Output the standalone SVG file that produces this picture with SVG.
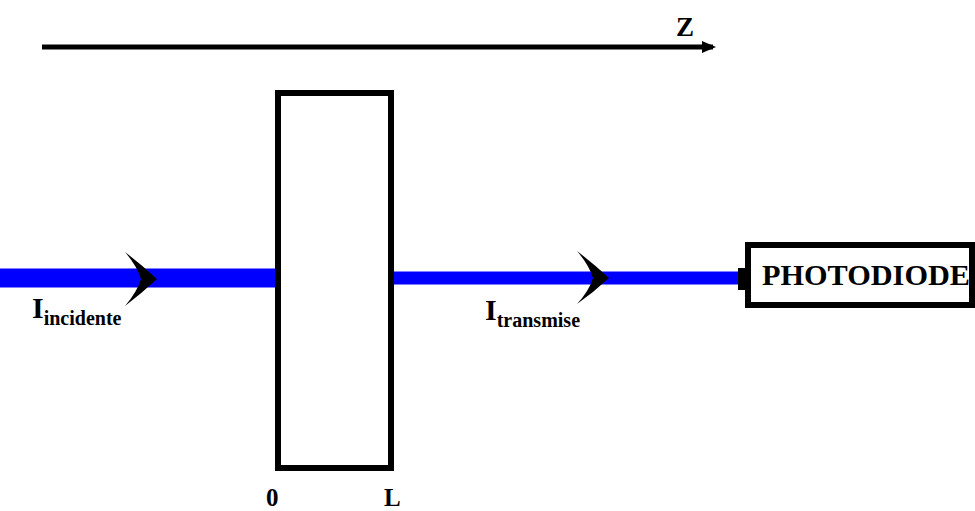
<svg xmlns="http://www.w3.org/2000/svg" width="975" height="511" viewBox="0 0 975 511">
<style>
.lbl{font-family:"Liberation Serif","Times New Roman",serif;font-weight:bold;fill:#000}
.box{fill:#fff;stroke:#000;stroke-width:6}
.beam{stroke:#0000ff;fill:none}
.chev{fill:#000}
</style>
<defs>
<marker id="ah" markerWidth="14" markerHeight="12" refX="11" refY="6" orient="auto" markerUnits="userSpaceOnUse">
<path d="M0,0 L14,6 L0,12 Z" fill="#000"/>
</marker>
</defs>
<rect width="975" height="511" fill="#fff"/>
<g id="connectors">
<line id="z-axis" x1="42" y1="47" x2="713" y2="47" stroke="#000" stroke-width="5" marker-end="url(#ah)"/>
<line id="beam-incident" class="beam" x1="0" y1="278" x2="276" y2="278" stroke-width="19"/>
<line id="beam-transmitted" class="beam" x1="392" y1="278" x2="742" y2="278" stroke-width="13"/>
<rect x="738" y="268" width="8" height="22" fill="#000"/>
<path class="chev" d="M125,252 Q142,265 157,279 Q142,293 125,306 Q137,292 141,279 Q137,266 125,252 Z"/>
<path class="chev" d="M577,251 Q594,264 609,278 Q594,292 577,304 Q589,291 593,278 Q589,265 577,251 Z"/>
</g>
<g id="slab">
<rect class="box" x="278" y="93" width="113" height="375"/>
</g>
<g id="photodiode">
<rect class="box" x="748" y="245" width="224" height="60"/>
<text class="lbl" x="762" y="285" font-size="30" textLength="208" lengthAdjust="spacingAndGlyphs">PHOTODIODE</text>
</g>
<g id="labels">
<text class="lbl" x="676" y="36" font-size="27">Z</text>
<text class="lbl" x="32" y="318" font-size="30">I<tspan font-size="20" dy="7">incidente</tspan></text>
<text class="lbl" x="485" y="320" font-size="30">I<tspan font-size="20" dy="7">transmise</tspan></text>
<text class="lbl" x="266" y="506" font-size="25">0</text>
<text class="lbl" x="384" y="506" font-size="25">L</text>
</g>
</svg>
